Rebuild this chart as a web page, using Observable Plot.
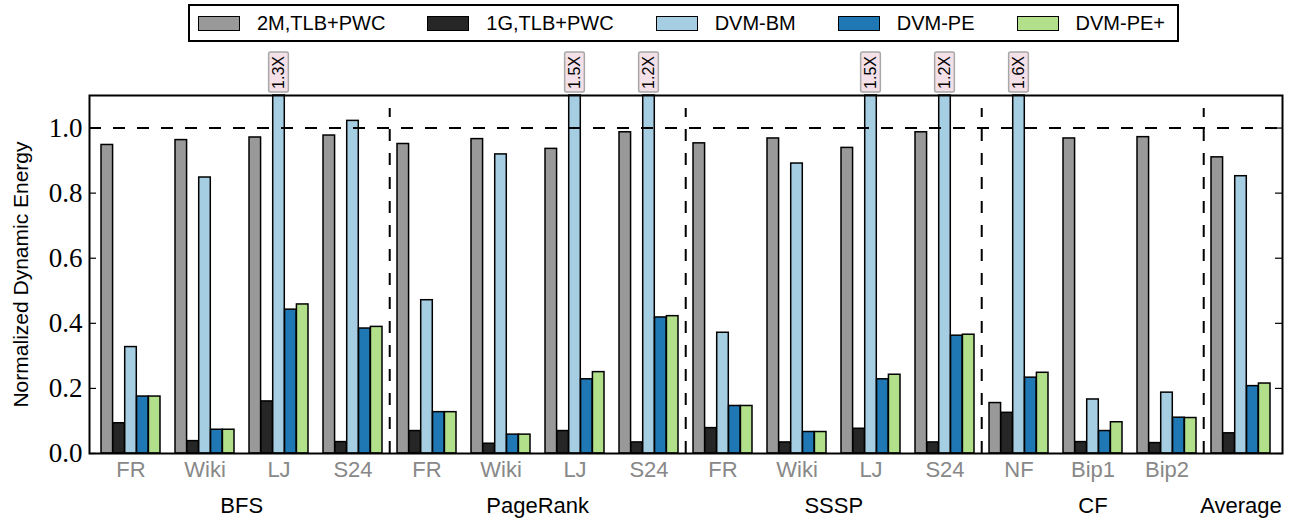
<!DOCTYPE html>
<html>
<head>
<meta charset="utf-8">
<script src="https://cdn.jsdelivr.net/npm/d3@7"></script>
<script src="https://cdn.jsdelivr.net/npm/@observablehq/plot@0.6"></script>
<style>
  html, body { margin: 0; padding: 0; background: #fff; }
  #wrap { position: relative; width: 1296px; height: 519px; overflow: hidden; }
  #legend {
    position: absolute; left: 188px; top: 4px; width: 991px; height: 38px;
    box-sizing: border-box; border: 2px solid #000; background: #fff;
    display: flex; align-items: center; padding-left: 8px;
    font-family: "Liberation Sans", Arial, sans-serif; font-size: 20px; color: #000;
  }
  .item { display: flex; align-items: center; margin-right: 42px; }
  .sw { width: 42px; height: 15px; box-sizing: border-box; border: 1.5px solid #000; }
  .lbl { margin-left: 17px; white-space: nowrap; }
  #chart { position: absolute; left: 0; top: 0; }
</style>
</head>
<body>
<div id="wrap">
  <div id="chart"></div>
  <div id="legend"></div>
</div>
<script>
// ---- data ----
const apps      = ["BFS","BFS","BFS","BFS","PageRank","PageRank","PageRank","PageRank","SSSP","SSSP","SSSP","SSSP","CF","CF","CF","Average"];
const workloads = ["FR","Wiki","LJ","S24","FR","Wiki","LJ","S24","FR","Wiki","LJ","S24","NF","Bip1","Bip2",""];
const seriesNames  = ["2M,TLB+PWC","1G,TLB+PWC","DVM-BM","DVM-PE","DVM-PE+"];
const seriesColors = ["#999999","#262626","#a6cee3","#1f78b4","#b2df8a"];
const v2M    = [0.948,0.963,0.971,0.977, 0.951,0.966,0.936,0.987, 0.953,0.968,0.939,0.987, 0.155,0.968,0.972, 0.910];
const v1G    = [0.093,0.038,0.160,0.035, 0.069,0.030,0.069,0.034, 0.078,0.034,0.076,0.034, 0.125,0.035,0.032, 0.062];
const vBM    = [0.327,0.848,1.300,1.022, 0.471,0.919,1.500,1.200, 0.371,0.891,1.500,1.200, 1.600,0.166,0.187, 0.852];
const vPE    = [0.175,0.073,0.442,0.384, 0.127,0.058,0.228,0.418, 0.146,0.066,0.228,0.362, 0.233,0.069,0.110, 0.207];
const vPEp   = [0.175,0.073,0.458,0.389, 0.127,0.058,0.250,0.422, 0.146,0.066,0.242,0.365, 0.248,0.096,0.109, 0.215];
const seriesValues = [v2M, v1G, vBM, vPE, vPEp];
const yTicks = [0, 0.2, 0.4, 0.6, 0.8, 1.0];
const appLabels = ["BFS","PageRank","SSSP","CF","Average"];
const yMax = 1.1;
const yLabel = "Normalized Dynamic Energy";

// ---- derived ----
const keys = apps.map((a, i) => a + "|" + workloads[i]);
const overflow = keys.map((k, i) => ({key: k, v: vBM[i]})).filter(d => d.v > yMax)
  .map(d => ({key: d.key, label: d.v.toFixed(1) + "X"}));

// ---- layout ----
const W = 1296, H = 519;
const mL = 89, mR = 14, mT = 95, mB = 66;
const plotW = W - mL - mR;
const pInner = 0.205, pOuter = 0.1025;
const step = plotW / keys.length;
const bw = step * (1 - pInner);
const w = bw / seriesNames.length;

// legend
const leg = document.getElementById("legend");
seriesNames.forEach((s, i) => {
  const it = document.createElement("div"); it.className = "item";
  const sw = document.createElement("div"); sw.className = "sw"; sw.style.background = seriesColors[i];
  const lb = document.createElement("span"); lb.className = "lbl"; lb.textContent = s;
  it.appendChild(sw); it.appendChild(lb); leg.appendChild(it);
});

const marks = [];
// bars
seriesValues.forEach((vals, i) => {
  const data = keys.map((k, j) => ({key: k, v: vals[j]}));
  marks.push(Plot.barY(data, {
    x: "key", y: "v", fill: seriesColors[i], stroke: "#000", strokeWidth: 1.5,
    insetLeft: i * w, insetRight: (seriesNames.length - 1 - i) * w
  }));
});
// horizontal reference line at 1.0
marks.push(Plot.ruleY([1.0], {stroke: "#000", strokeWidth: 2, strokeDasharray: "12,12"}));
// vertical separators between applications
const sepKeys = keys.filter((k, i) => i > 0 && apps[i] !== apps[i - 1]);
marks.push(Plot.ruleX(sepKeys, {x: d => d, y1: 0, y2: 1.06, dx: -step / 2, stroke: "#000", strokeWidth: 2, strokeDasharray: "12,12"}));
// y ticks inward, both sides
marks.push(Plot.ruleY(yTicks, {y: d => d, insetRight: plotW - 7, stroke: "#000", strokeWidth: 1.2}));
marks.push(Plot.ruleY(yTicks, {y: d => d, insetLeft: plotW - 7, stroke: "#000", strokeWidth: 1.2}));
// frame
marks.push(Plot.frame({stroke: "#000", strokeWidth: 2}));
// overflow annotation boxes and labels
marks.push(Plot.barY(overflow, {
  x: "key", y1: () => yMax, y2: () => yMax,
  insetLeft: bw / 2 - 10, insetRight: bw / 2 - 10, insetTop: -43, insetBottom: 3,
  fill: "#f3e0e8", stroke: "#a8a8a8", strokeWidth: 1.5, rx: 2
}));
marks.push(Plot.text(overflow, {
  x: "key", y: () => yMax, dy: -23, text: "label", rotate: -90,
  fontSize: 16, fontFamily: "Liberation Sans, Arial, sans-serif", fill: "#000",
  textAnchor: "middle", lineAnchor: "middle"
}));
// axes
marks.push(Plot.axisY(yTicks, {
  anchor: "left", tickSize: 0, tickPadding: 7, tickFormat: d3.format(".1f"),
  fontSize: 27, fontFamily: "Liberation Serif, Times New Roman, serif", fill: "#000", label: null
}));
marks.push(Plot.axisX({
  tickSize: 0, tickPadding: 8, tickFormat: d => d.split("|")[1],
  fontSize: 22, fontFamily: "Liberation Sans, Arial, sans-serif", fill: "#888888", label: null
}));
// application labels
appLabels.forEach(a => {
  const idx = apps.map((x, i) => x === a ? i : -1).filter(i => i >= 0);
  const mid = (idx[0] + idx[idx.length - 1]) / 2;
  const ci = Math.ceil(mid);
  marks.push(Plot.text([a], {
    x: () => keys[ci], y: () => 0, dx: (mid - ci) * step, dy: 52, text: d => d,
    fontSize: 22, fontFamily: "Liberation Sans, Arial, sans-serif", fill: "#000",
    textAnchor: "middle", lineAnchor: "middle"
  }));
});
// y label
marks.push(Plot.text([yLabel], {
  frameAnchor: "left", rotate: -90, dx: -68, text: d => d,
  fontSize: 21, fontFamily: "Liberation Sans, Arial, sans-serif", fill: "#000",
  textAnchor: "middle", lineAnchor: "middle"
}));

const chart = Plot.plot({
  width: W, height: H,
  marginLeft: mL, marginRight: mR, marginTop: mT, marginBottom: mB,
  style: {background: "#fff", overflow: "visible"},
  x: {type: "band", domain: keys, paddingInner: pInner, paddingOuter: pOuter, axis: null},
  y: {domain: [0, yMax], clamp: true, axis: null},
  marks
});
document.getElementById("chart").appendChild(chart);
</script>
</body>
</html>
